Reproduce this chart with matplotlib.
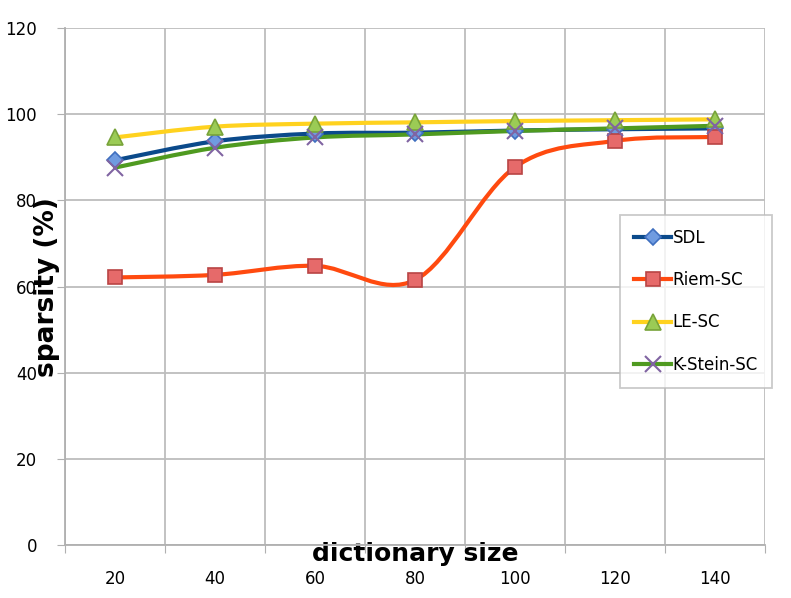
import numpy as np
import matplotlib
matplotlib.use("Agg")
import matplotlib.pyplot as plt
from matplotlib.path import Path
from matplotlib.patches import PathPatch
from matplotlib.lines import Line2D

plt.rcParams['font.family'] = ['DejaVu Sans']

dict_size = [20, 40, 60, 80, 100, 120, 140]
sdl = [89.3, 93.7, 95.5, 95.7, 96.2, 96.5, 96.7]
riem = [62.1, 62.7, 64.8, 61.5, 87.7, 93.8, 94.7]
le = [94.6, 97.1, 97.8, 98.1, 98.4, 98.6, 98.8]
kstein = [87.6, 92.2, 94.6, 95.3, 96.1, 96.7, 97.3]

series = [
    ("SDL", sdl, "#0b4a8b", "D", "#6f9be0", "#3f6fbf", 8),
    ("Riem-SC", riem, "#ff4a0f", "s", "#e66a6a", "#b94444", 10),
    ("LE-SC", le, "#ffd21f", "^", "#9bcb55", "#78a33a", 11),
    ("K-Stein-SC", kstein, "#4f9a20", "x", "none", "#8064a2", 11),
]


def smooth_path(x, y):
    # excel style smoothing: bezier with catmull-rom control points
    pts = np.column_stack([np.asarray(x, float), np.asarray(y, float)])
    verts = [pts[0]]
    codes = [Path.MOVETO]
    n = len(pts)
    for i in range(n - 1):
        p0 = pts[i - 1] if i > 0 else pts[i]
        p1 = pts[i]
        p2 = pts[i + 1]
        p3 = pts[i + 2] if i + 2 < n else pts[i + 1]
        verts += [p1 + (p2 - p0) / 6.0, p2 - (p3 - p1) / 6.0, p2]
        codes += [Path.CURVE4] * 3
    return Path(verts, codes)


fig = plt.figure(figsize=(7.91, 5.98), dpi=100)
ax = fig.add_axes([65 / 791, 53 / 598, 700 / 791, 517 / 598])

handles = []
for name, vals, lc, mk, mfc, mec, ms in series:
    patch = PathPatch(smooth_path(dict_size, vals), facecolor="none",
                      edgecolor=lc, lw=3.0, capstyle="round", zorder=3)
    ax.add_patch(patch)
    mew = 1.5 if mk == "x" else 1.2
    ax.plot(dict_size, vals, ls="none", marker=mk, ms=ms, mfc=mfc, mec=mec,
            mew=mew, zorder=4)
    handles.append(Line2D([], [], color=lc, lw=3.0, marker=mk, ms=ms,
                          mfc=mfc, mec=mec, mew=mew))

ax.set_xlim(10, 150)
ax.set_ylim(0, 120)
ax.set_yticks(np.arange(0, 121, 20))
ax.set_xticks(np.arange(10, 151, 20))
ax.set_xticklabels([])
ax.set_xticks(dict_size, minor=True)
ax.set_xticklabels([str(v) for v in dict_size], minor=True)
ax.tick_params(axis="x", which="minor", length=0, pad=18, labelsize=12)
ax.tick_params(axis="x", which="major", length=6, color="#b0b0b0", direction="out")
ax.tick_params(axis="y", length=6, color="#b0b0b0", pad=14, labelsize=12)

ax.grid(True, which="major", color="#bdbdbd", lw=1.3)
ax.set_axisbelow(True)
for s in ["top", "right"]:
    ax.spines[s].set_visible(False)
for s in ["left", "bottom"]:
    ax.spines[s].set_color("#b0b0b0")
    ax.spines[s].set_linewidth(1.3)

ax.set_ylabel("sparsity (%)", fontsize=19, fontweight="bold")
ax.yaxis.set_label_coords(-0.007, 0.498)
ax.set_xlabel("dictionary size", fontsize=18, fontweight="bold")
ax.xaxis.set_label_coords(0.5, 0.006)

leg = ax.legend(handles, [s[0] for s in series], loc="upper left",
                bbox_to_anchor=((620 - 65) / 700, (545 - 215) / 517),
                frameon=True, fancybox=False, fontsize=12, handlelength=2.2,
                labelspacing=1.45, borderpad=0.85, handletextpad=0.1,
                borderaxespad=0)
leg.get_frame().set_edgecolor("#bdbdbd")
leg.get_frame().set_linewidth(1.3)

fig.savefig("out.png", dpi=100)
